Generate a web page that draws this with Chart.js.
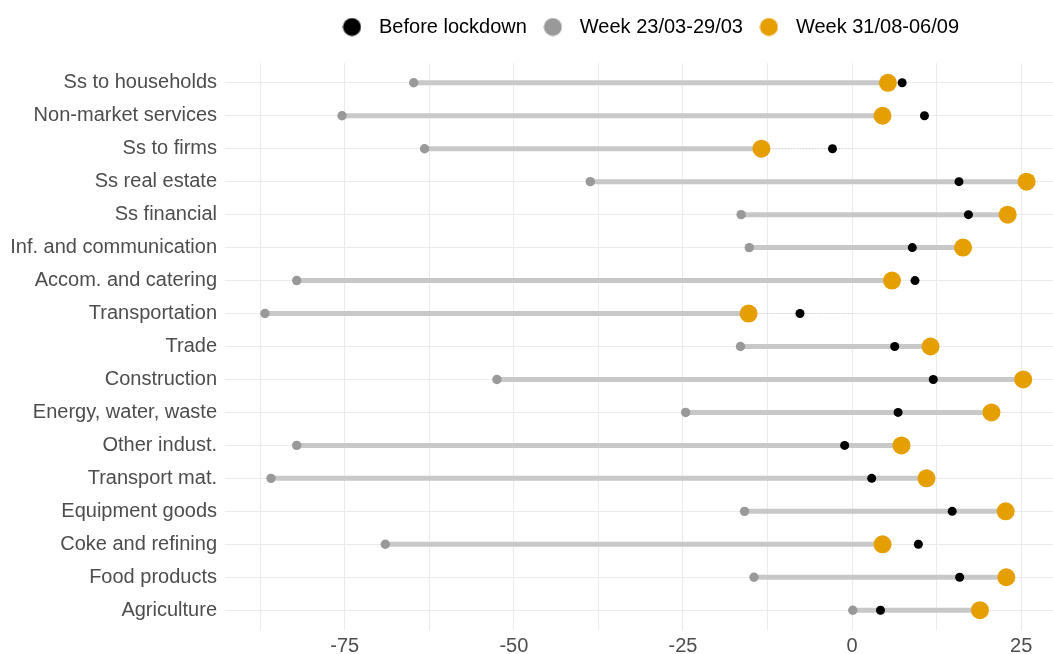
<!DOCTYPE html>
<html>
<head>
<meta charset="utf-8">
<script src="https://cdn.jsdelivr.net/npm/chart.js@4.4.0/dist/chart.umd.min.js"></script>
<style>
  html, body { margin: 0; padding: 0; background: #fff; overflow: hidden; }
  #wrap { width: 1053px; height: 654px; position: relative; }
</style>
</head>
<body>
<div id="wrap"><canvas id="sectorChart"></canvas></div>
<script>
const sectors = [
    'Ss to households', 'Non-market services', 'Ss to firms', 'Ss real estate',
    'Ss financial', 'Inf. and communication', 'Accom. and catering', 'Transportation',
    'Trade', 'Construction', 'Energy, water, waste', 'Other indust.',
    'Transport mat.', 'Equipment goods', 'Coke and refining', 'Food products', 'Agriculture'
];
const beforeLockdown = [7.4, 10.7, -2.9, 15.8, 17.2, 8.9, 9.3, -7.7, 6.3, 12.0, 6.8, -1.1, 2.9, 14.8, 9.8, 15.9, 4.2];
const weekMarch = [-64.8, -75.4, -63.2, -38.7, -16.4, -15.2, -82.1, -86.8, -16.5, -52.5, -24.6, -82.1, -85.9, -15.9, -69.0, -14.5, 0.1];
const weekSeptember = [5.3, 4.5, -13.4, 25.8, 23.0, 16.4, 5.9, -15.3, 11.6, 25.3, 20.6, 7.3, 11.0, 22.7, 4.5, 22.8, 18.9];
const seriesNames = ['Before lockdown', 'Week 23/03-29/03', 'Week 31/08-06/09'];
const xGridValues = [-87.5, -75, -62.5, -50, -37.5, -25, -12.5, 0, 12.5, 25];
const xLabelValues = [-75, -50, -25, 0, 25];

const BLACK = '#000000';
const GREY = '#999999';
const ORANGE = '#E69F00';
const GRID = '#ebebeb';

// round legend marker drawn on a small canvas (lets the legend keep a wider box)
function legendDot(color) {
    const c = document.createElement('canvas');
    c.width = 19;
    c.height = 19;
    const g = c.getContext('2d');
    g.fillStyle = color;
    g.beginPath();
    g.arc(9.5, 9.5, 9, 0, Math.PI * 2);
    g.fill();
    return c;
}
const legendDots = [legendDot(BLACK), legendDot(GREY), legendDot(ORANGE)];

const toPoints = values => values.map((v, i) => ({ x: v, y: i }));
// pairs of points per row, the link between rows is hidden
const rangeLine = sectors.flatMap((s, i) => [{ x: weekMarch[i], y: i }, { x: weekSeptember[i], y: i }]);
const zeroLine = sectors.flatMap((s, i) => [{ x: 0, y: i }, { x: weekSeptember[i], y: i }]);
const sameRow = (ctx, color) => ctx.p0DataIndex % 2 === 0 ? color : 'rgba(0,0,0,0)';

// legend sits a bit right of the plot centre in the original
const legendShift = {
    id: 'legendShift',
    afterLayout(chart) {
        chart.legend.left += 8;
        chart.legend.right += 8;
    }
};

const ctx = document.getElementById('sectorChart').getContext('2d');
const chart = new Chart(ctx, {
    type: 'scatter',
    data: {
        datasets: [
            {
                label: seriesNames[0],
                data: toPoints(beforeLockdown),
                backgroundColor: BLACK,
                borderWidth: 0,
                pointRadius: 4.5,
                order: 1
            },
            {
                label: seriesNames[1],
                data: toPoints(weekMarch),
                backgroundColor: GREY,
                borderWidth: 0,
                pointRadius: 4.7,
                order: 2
            },
            {
                label: seriesNames[2],
                data: toPoints(weekSeptember),
                backgroundColor: ORANGE,
                borderWidth: 0,
                pointRadius: 9,
                order: 0
            },
            {
                label: 'range',
                data: rangeLine,
                showLine: true,
                pointRadius: 0,
                borderWidth: 5,
                borderColor: '#c8c8c8',
                borderCapStyle: 'butt',
                segment: { borderColor: c => sameRow(c, '#c8c8c8') },
                order: 5
            },
            {
                label: 'zero',
                data: zeroLine,
                showLine: true,
                pointRadius: 0,
                borderWidth: 1,
                borderDash: [1, 2],
                borderColor: '#d4d4d4',
                segment: { borderColor: c => sameRow(c, '#d4d4d4') },
                order: 6
            }
        ]
    },
    plugins: [legendShift],
    options: {
        responsive: true,
        maintainAspectRatio: false,
        animation: false,
        events: [],
        layout: { autoPadding: false, padding: { top: 8, left: 0, right: 0, bottom: 0 } },
        scales: {
            x: {
                type: 'linear',
                position: 'bottom',
                min: -92.7,
                max: 29.7,
                afterBuildTicks: scale => {
                    scale.ticks = xGridValues.map(v => ({ value: v }));
                },
                afterFit: scale => { scale.height = 24; },
                grid: { color: GRID, lineWidth: 1, drawTicks: false },
                border: { display: false },
                ticks: {
                    padding: 4,
                    color: '#4d4d4d',
                    font: { family: 'Liberation Sans', size: 20 },
                    maxRotation: 0,
                    autoSkip: false,
                    callback: v => xLabelValues.includes(v) ? String(v) : ''
                }
            },
            gap: {
                type: 'linear',
                axis: 'x',
                position: 'top',
                display: true,
                grid: { display: false },
                border: { display: false },
                ticks: { display: false },
                afterFit: scale => { scale.height = 16; }
            },
            y: {
                type: 'linear',
                reverse: true,
                min: -0.6,
                max: 16.6,
                afterBuildTicks: scale => {
                    scale.ticks = sectors.map((s, i) => ({ value: i }));
                },
                afterFit: scale => { scale.width = 225; },
                grid: { color: GRID, lineWidth: 1, drawTicks: false },
                border: { display: false },
                ticks: {
                    padding: 8,
                    color: '#4d4d4d',
                    font: { family: 'Liberation Sans', size: 20 },
                    autoSkip: false,
                    callback: v => sectors[v]
                }
            }
        },
        plugins: {
            tooltip: { enabled: false },
            legend: {
                position: 'top',
                fullSize: false,
                labels: {
                    usePointStyle: true,
                    pointStyleWidth: 34,
                    padding: 9,
                    color: '#000000',
                    font: { family: 'Liberation Sans', size: 20 },
                    filter: item => item.datasetIndex < 3,
                    sort: (a, b) => a.datasetIndex - b.datasetIndex,
                    generateLabels: c => Chart.defaults.plugins.legend.labels.generateLabels(c)
                        .map(item => Object.assign(item, { pointStyle: legendDots[item.datasetIndex] || 'circle' }))
                }
            }
        }
    }
});
</script>
</body>
</html>
